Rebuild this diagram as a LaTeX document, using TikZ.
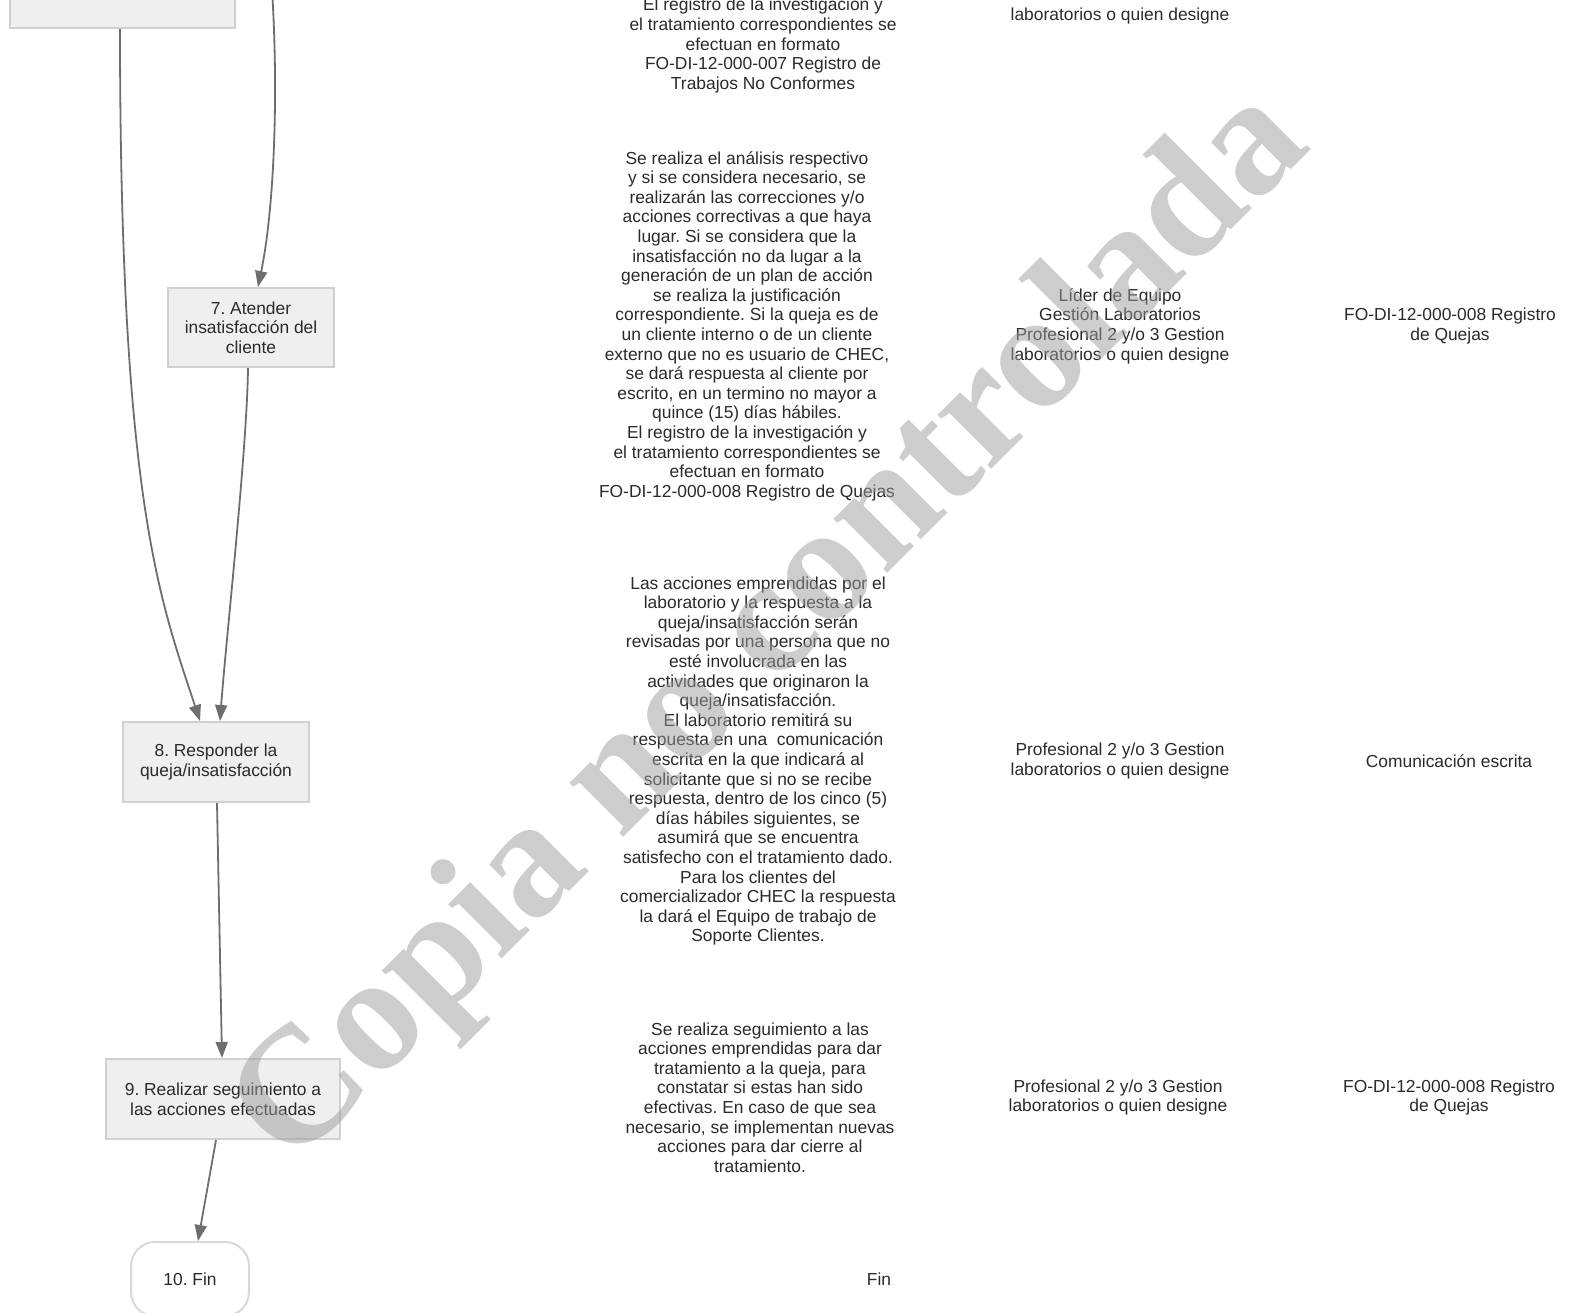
\documentclass[tikz,border=0pt]{standalone}
\usepackage{fontspec}
\setmainfont{Liberation Sans}
\newfontfamily\wmfont{Liberation Serif}
\usetikzlibrary{arrows.meta}
\definecolor{txt}{HTML}{2A2A2A}
\definecolor{edge}{HTML}{6E6E6E}
\definecolor{boxfill}{HTML}{EFEFEF}
\definecolor{boxline}{HTML}{D0D0D0}
\definecolor{endline}{HTML}{D8D8D8}
\definecolor{wm}{HTML}{9C9C9C}
\frenchspacing
\begin{document}
\begin{tikzpicture}[x=1pt,y=-1pt,
  every node/.style={text=txt, font=\frenchspacing\fontsize{17.4}{19.6}\selectfont, inner sep=0pt},
  proc/.style={draw=boxline, line width=2pt, fill=boxfill, align=center, minimum height=80pt},
  endbox/.style={draw=endline, line width=2pt, fill=white, rounded corners=24pt, minimum height=74pt, minimum width=118pt},
  desc/.style={align=center},
  arr/.style={draw=edge, line width=1.8pt, -{Triangle[length=16pt,width=12pt]}},
  watermark/.style={font=\wmfont\bfseries\fontsize{166}{166}\selectfont, text=wm, text opacity=0.5, rotate=45, anchor=base west}
]
\useasboundingbox (0,0) rectangle (1569,1312);
\clip (0,0) rectangle (1569,1312);

% process boxes
\node[proc, minimum width=225pt] (b0) at (122.5,-12) {};
\node[proc, minimum width=166pt, minimum height=79pt] (b7) at (251,327.5) {7. Atender\\insatisfacción del\\cliente};
\node[proc, minimum width=186pt] (b8) at (216,762) {8. Responder la\\queja/insatisfacción};
\node[proc, minimum width=234pt] (b9) at (223,1099) {9. Realizar seguimiento a\\las acciones efectuadas};
\node[endbox] (b10) at (190,1279) {10. Fin};

% connectors
\coordinate (c0) at (268,-60);
\draw[arr] (c0) .. controls (280,60) and (276,200) .. ([xshift=7pt]b7.north);
\draw[arr] ([xshift=-2.5pt]b0.south) .. controls (120,500) and (160,600) .. ([xshift=-16pt]b8.north);
\draw[arr] ([xshift=-3pt]b7.south) .. controls (247,450) and (226,640) .. ([xshift=4pt]b8.north);
\draw[arr] ([xshift=1pt]b8.south) -- ([xshift=-1pt]b9.north);
\draw[arr] ([xshift=-7pt]b9.south) -- ([xshift=8pt]b10.north);

% descriptions
\node[desc] (d0) at (763,45.5) {El registro de la investigación y\\el tratamiento correspondientes se\\efectuan en formato\\FO-DI-12-000-007 Registro de\\Trabajos No Conformes};
\node[desc] (r0) at (1120,16) {laboratorios o quien designe};

\node[desc] (d7) at (747,326) {Se realiza el análisis respectivo\\y si se considera necesario, se\\realizarán las correcciones y/o\\acciones correctivas a que haya\\lugar. Si se considera que la\\insatisfacción no da lugar a la\\generación de un plan de acción\\se realiza la justificación\\correspondiente. Si la queja es de\\un cliente interno o de un cliente\\externo que no es usuario de CHEC,\\se dará respuesta al cliente por\\escrito, en un termino no mayor a\\quince (15) días hábiles.\\El registro de la investigación y\\el tratamiento correspondientes se\\efectuan en formato\\FO-DI-12-000-008 Registro de Quejas};
\node[desc] (r7) at (1120,326) {Líder de Equipo\\Gestión Laboratorios\\Profesional 2 y/o 3 Gestion\\laboratorios o quien designe};
\node[desc] (f7) at (1450,326) {FO-DI-12-000-008 Registro\\de Quejas};

\node[desc] (d8) at (758,761) {Las acciones emprendidas por el\\laboratorio y la respuesta a la\\queja/insatisfacción serán\\revisadas por una persona que no\\esté involucrada en las\\actividades que originaron la\\queja/insatisfacción.\\El laboratorio remitirá su\\respuesta en una\ \ comunicación\\escrita en la que indicará al\\solicitante que si no se recibe\\respuesta, dentro de los cinco (5)\\días hábiles siguientes, se\\asumirá que se encuentra\\satisfecho con el tratamiento dado.\\Para los clientes del\\comercializador CHEC la respuesta\\la dará el Equipo de trabajo de\\Soporte Clientes.};
\node[desc] (r8) at (1120,761) {Profesional 2 y/o 3 Gestion\\laboratorios o quien designe};
\node[desc] (f8) at (1449,761) {Comunicación escrita};

\node[desc] (d9) at (760,1097.5) {Se realiza seguimiento a las\\acciones emprendidas para dar\\tratamiento a la queja, para\\constatar si estas han sido\\efectivas. En caso de que sea\\necesario, se implementan nuevas\\acciones para dar cierre al\\tratamiento.};
\node[desc] (r9) at (1118,1097.5) {Profesional 2 y/o 3 Gestion\\laboratorios o quien designe};
\node[desc] (f9) at (1449,1097.5) {FO-DI-12-000-008 Registro\\de Quejas};

\node[desc] (fin) at (879,1279) {Fin};

% watermark
\node[watermark] (wmk) at (291,1170) {Copia no controlada};
\end{tikzpicture}
\end{document}
